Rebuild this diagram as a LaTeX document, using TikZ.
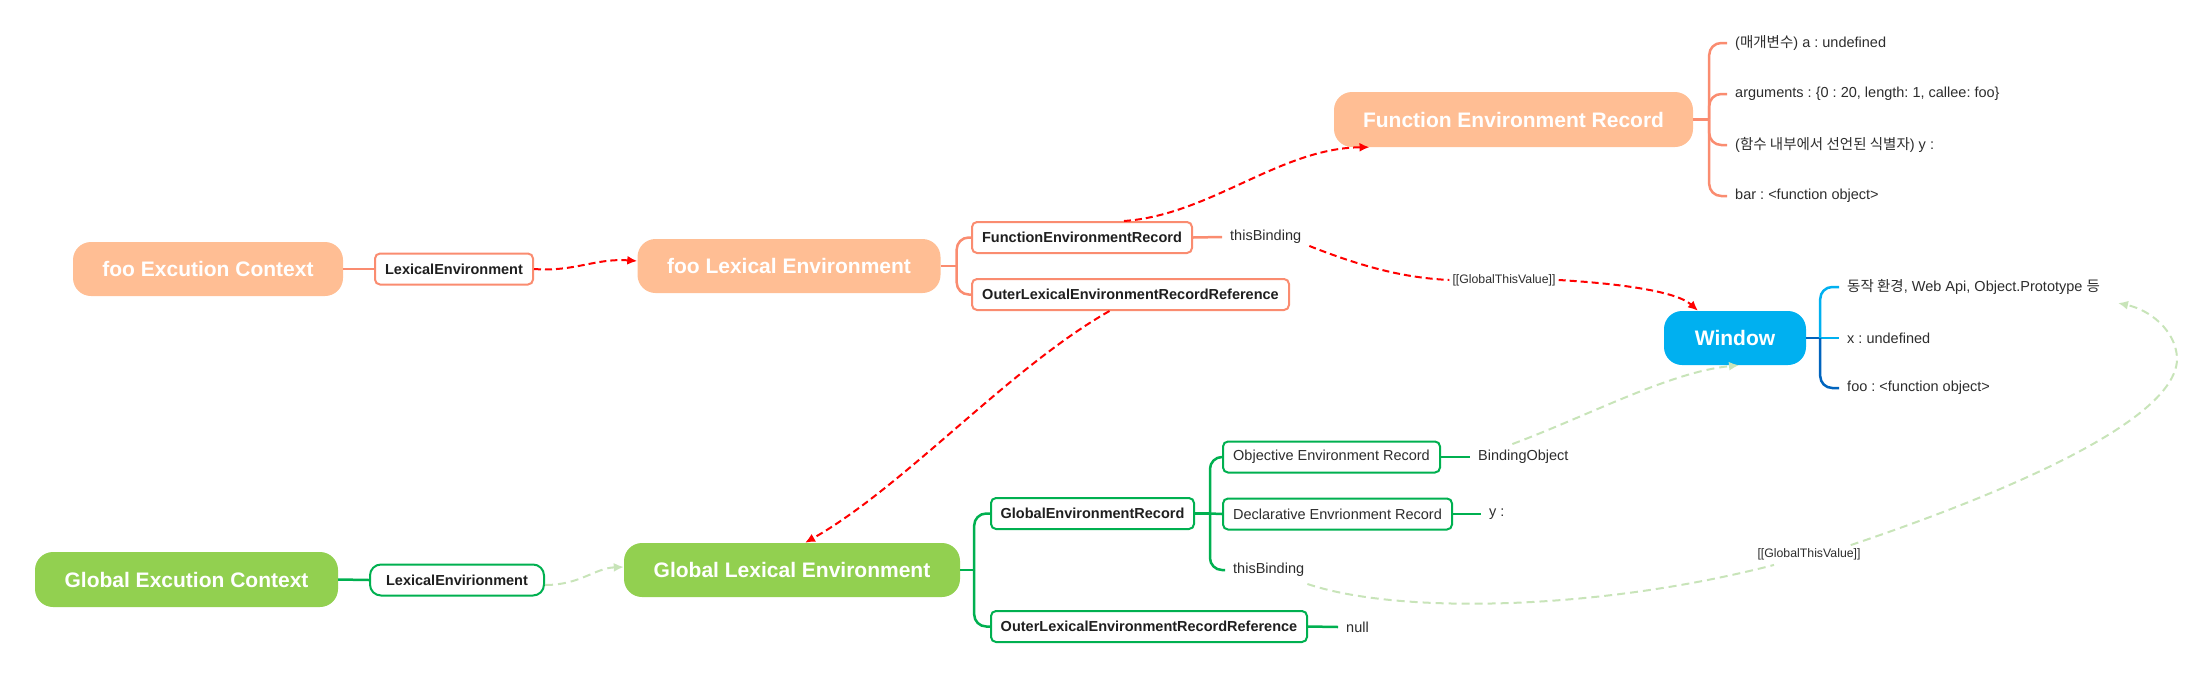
\documentclass[tikz,border=0pt]{standalone}
\usepackage{fontspec}
\setmainfont{Liberation Sans}
\newfontfamily\kr{Noto Sans CJK KR}
\usetikzlibrary{arrows.meta,calc}
\definecolor{peach}{RGB}{255,190,148}
\definecolor{orln}{RGB}{250,140,112}
\definecolor{grfill}{RGB}{146,208,80}
\definecolor{grln}{RGB}{0,176,80}
\definecolor{bluefill}{RGB}{0,176,240}
\definecolor{bluedark}{RGB}{0,100,190}
\definecolor{ltgreen}{RGB}{200,228,185}
\definecolor{redln}{RGB}{255,0,0}
\definecolor{txt}{RGB}{45,45,45}
\frenchspacing
\begin{document}
\begin{tikzpicture}[x=1pt,y=-1pt,
  big/.style={rounded corners=18pt, text=white, font=\fontsize{21}{25}\selectfont\bfseries, inner sep=0pt, minimum height=54pt},
  orbig/.style={big, fill=peach},
  grbig/.style={big, fill=grfill},
  bluebig/.style={big, fill=bluefill},
  sbox/.style={draw, line width=2pt, rounded corners=5pt, fill=white, text=black!88, font=\fontsize{14.5}{17}\selectfont\bfseries, inner sep=0pt, minimum height=31pt},
  orbox/.style={sbox, draw=orln},
  grbox/.style={sbox, draw=grln},
  regular/.style={font=\fontsize{14.5}{17}\selectfont, text=txt},
  item/.style={anchor=west, text=txt, font=\fontsize{14.5}{17}\selectfont, inner xsep=8pt, inner ysep=2pt},
  lbl/.style={text=txt, font=\fontsize{12.3}{14}\selectfont, inner sep=3pt},
  orlink/.style={draw=orln, line width=2.5pt, rounded corners=12pt},
  grlink/.style={draw=grln, line width=2.5pt, rounded corners=12pt},
  bllink/.style={line width=2.5pt, rounded corners=12pt},
  redarrow/.style={draw=redln, line width=2pt, dash pattern=on 7pt off 4pt, -{Latex[length=10pt,width=9pt]}},
  ltline/.style={draw=ltgreen, line width=2pt, dash pattern=on 8pt off 5pt},
  ltarrow/.style={ltline, -{Latex[length=10pt,width=9pt]}}
]
\useasboundingbox (0,0) rectangle (2211,689);

% ---- foo context ----
\node[orbig, minimum width=270pt] (fooEC) at (208,269) {foo Excution Context};
\node[orbox, minimum width=158pt] (lexTop) at (454,269) {LexicalEnvironment};
\node[orbig, minimum width=303pt] (fooLE) at (789,266) {foo Lexical Environment};
\node[orbox, minimum width=220pt] (ferS) at (1082,237.5) {FunctionEnvironmentRecord};
\node[orbox, minimum width=317pt] (outerT) at (1130.5,294.5) {OuterLexicalEnvironmentRecordReference};
\node[item] (tbT) at (1222,237) {thisBinding};
\node[orbig, minimum width=359pt, minimum height=55pt] (ferB) at (1513.5,119.5) {Function Environment Record};
\node[item] (fa) at (1727,43) {({\kr 매개변수}) a : undefined};
\node[item] (fb) at (1727,94) {arguments : \{0 : 20, length: 1, callee: foo\}};
\node[item] (fc) at (1727,145) {({\kr 함수 내부에서 선언된 식별자}) y :};
\node[item] (fd) at (1727,196) {bar : \textless function object\textgreater};

% ---- window ----
\node[bluebig, minimum width=142pt] (win) at (1735,338) {Window};
\node[item] (wa) at (1839,287) {{\kr 동작 환경}, Web Api, Object.Prototype {\kr 등}};
\node[item] (wb) at (1839,338) {x : undefined};
\node[item] (wc) at (1839,388) {foo : \textless function object\textgreater};

% ---- global context ----
\node[grbig, minimum width=303pt, minimum height=55pt] (gEC) at (186.5,579.5) {Global Excution Context};
\node[grbox, minimum width=174pt, rounded corners=11pt] (lexBot) at (457,580) {LexicalEnvirionment};
\node[grbig, minimum width=336pt] (gLE) at (792,570) {Global Lexical Environment};
\node[grbox, minimum width=203pt] (ger) at (1092.5,513.5) {GlobalEnvironmentRecord};
\node[grbox, regular, minimum width=217pt] (obj) at (1331.5,457) {Objective Environment Record};
\node[grbox, regular, minimum width=229pt] (decl) at (1337.5,514) {Declarative Envrionment Record};
\node[grbox, minimum width=316pt] (outerB) at (1149,626.5) {OuterLexicalEnvironmentRecordReference};
\node[item] (bo) at (1470,457) {BindingObject};
\node[item] (yv) at (1481,514) {y :};
\node[item] (tbB) at (1225,570) {thisBinding};
\node[item] (nul) at (1338,627) {null};

% ---- labels ----
\node[lbl] (gtv1) at (1504,280) {[[GlobalThisValue]]};
\node[lbl] (gtv2) at (1809,554) {[[GlobalThisValue]]};
\coordinate (gtvTarget) at (2118,303);

% ---- orange tree ----
\draw[orlink] (fooEC.east) -- (lexTop.west);
\coordinate (j1) at ($(fooLE.east)+(16,0)$);
\draw[orlink] (fooLE.east) -- (j1);
\draw[orlink] (j1) |- (ferS.west);
\draw[orlink] (j1) |- (outerT.west);
\draw[orlink] (ferS.east) -- (tbT.west);
\coordinate (j2) at ($(ferB.east)+(16,0)$);
\draw[orlink] (ferB.east) -- (j2);
\foreach \n in {fa,fb,fc,fd} \draw[orlink] (j2) |- (\n.west);

% ---- blue tree ----
\coordinate (j3) at ($(win.east)+(14,0)$);
\draw[bllink, draw=bluedark] (win.east) -- (j3);
\draw[bllink, draw=bluefill] (j3) |- (wa.west);
\draw[bllink, draw=bluefill] (j3) -- (wb.west);
\draw[bllink, draw=bluedark] (j3) |- (wc.west);

% ---- green tree ----
\draw[grlink] (gEC.east) -- (lexBot.west);
\coordinate (j4) at ($(gLE.east)+(14,0)$);
\draw[grlink] (gLE.east) -- (j4);
\draw[grlink] (j4) |- (ger.west);
\draw[grlink] (j4) |- (outerB.west);
\coordinate (j5) at ($(ger.east)+(15,0)$);
\draw[grlink] (ger.east) -- (j5);
\draw[grlink] (j5) |- (obj.west);
\draw[grlink] (j5) -- (decl.west);
\draw[grlink] (j5) |- (tbB.west);
\draw[grlink] (obj.east) -- (bo.west);
\draw[grlink] (decl.east) -- (yv.west);
\draw[grlink] (outerB.east) -- (nul.west);

% ---- red dashed arrows ----
\draw[redarrow] (lexTop.east) .. controls (575,272) and (595,258) .. ($(fooLE.west)+(0,-5)$);
\draw[redarrow] ($(ferS.north)+(42,0)$) .. controls (1210,215) and (1280,148) .. ($(ferB.south)+(-144,0)$);
\draw[redarrow, -] (tbT.south east) .. controls (1370,270) and (1410,278) .. (gtv1.west);
\draw[redarrow] (gtv1.east) .. controls (1610,283) and (1675,290) .. ($(win.north)+(-37,0)$);
\draw[redarrow] ($(outerT.south)+(-21,0)$) .. controls (1009,368) and (905,486) .. ($(gLE.north)+(13,0)$);

% ---- light green dashed arrows ----
\draw[ltarrow] ($(lexBot.east)+(0,5)$) .. controls (580,585) and (595,568) .. ($(gLE.west)+(0,-3)$);
\draw[ltarrow] ($(bo.north)+(-11,-4)$) .. controls (1590,415) and (1670,372) .. ($(win.south)+(4,0)$);
\draw[ltline] ($(tbB.south east)+(-5,5)$) .. controls (1400,615) and (1600,610) .. ($(gtv2.south)+(-35,2)$);
\draw[ltarrow] ($(gtv2.north east)+(-13,0)$) .. controls (2000,495) and (2180,420) .. (2177,357) .. controls (2175,330) and (2150,310) .. (gtvTarget);
\end{tikzpicture}
\end{document}
